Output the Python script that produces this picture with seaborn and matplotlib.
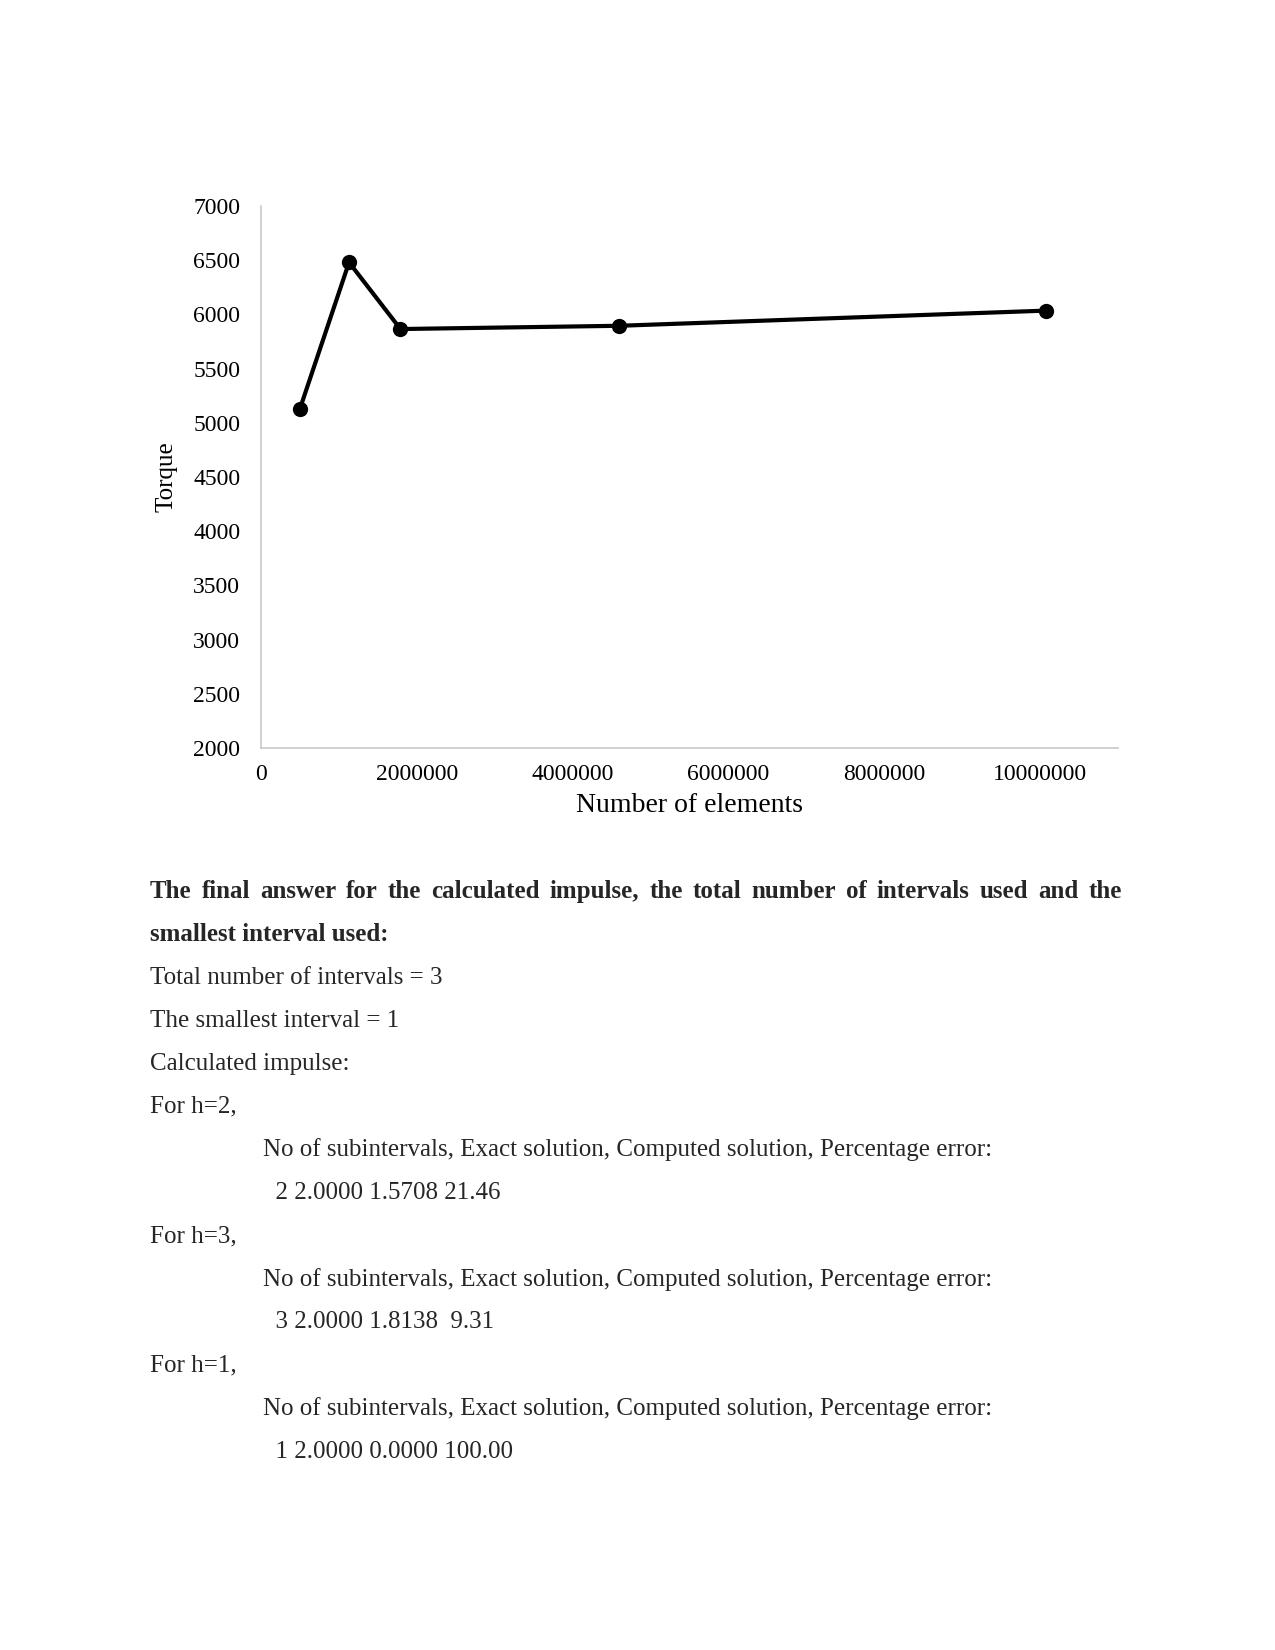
import matplotlib
matplotlib.use("Agg")
import matplotlib.pyplot as plt
import seaborn as sns
import pandas as pd

# ---- data ----
num_elements = [500000, 1130000, 1790000, 4600000, 10080000]
torque = [5130, 6480, 5865, 5895, 6035]
x_ticks = [0, 2000000, 4000000, 6000000, 8000000, 10000000]
y_ticks = [2000, 2500, 3000, 3500, 4000, 4500, 5000, 5500, 6000, 6500, 7000]

heading_words = "The final answer for the calculated impulse, the total number of intervals used and the".split()
heading_line2 = "smallest interval used:"
body_lines = [
    ("Total number of intervals = 3", 0),
    ("The smallest interval = 1", 0),
    ("Calculated impulse:", 0),
    ("For h=2,", 0),
    ("No of subintervals, Exact solution, Computed solution, Percentage error:", 1),
    ("  2 2.0000 1.5708 21.46", 1),
    ("For h=3,", 0),
    ("No of subintervals, Exact solution, Computed solution, Percentage error:", 1),
    ("  3 2.0000 1.8138  9.31", 1),
    ("For h=1,", 0),
    ("No of subintervals, Exact solution, Computed solution, Percentage error:", 1),
    ("  1 2.0000 0.0000 100.00", 1),
]

df = pd.DataFrame({"elements": num_elements, "torque": torque})

sns.set_style("white")
plt.rcParams["font.family"] = ["Liberation Serif", "DejaVu Serif"]

W, H = 1275, 1650
fig = plt.figure(figsize=(W / 100, H / 100), dpi=100)
ax = fig.add_axes([261 / W, 1 - 748 / H, (1118 - 261) / W, (748 - 206) / H])

sns.lineplot(data=df, x="elements", y="torque", ax=ax, color="black",
             linewidth=3, marker="o", markersize=11, markeredgewidth=0)

ax.set_xlim(0, 11000000)
ax.set_ylim(2000, 7000)
ax.set_xticks(x_ticks)
ax.set_xticklabels([str(v) for v in x_ticks])
ax.set_yticks(y_ticks)
ax.set_yticklabels([str(v) for v in y_ticks])
ax.tick_params(axis="both", length=0, labelsize=17, colors="#000000")
ax.tick_params(axis="y", pad=15)
ax.tick_params(axis="x", pad=11.5)
for s in ["top", "right"]:
    ax.spines[s].set_visible(False)
for s in ["left", "bottom"]:
    ax.spines[s].set_color("#c8c8c8")
    ax.spines[s].set_linewidth(1.2)
ax.grid(False)

ax.set_xlabel("Number of elements", fontsize=20, color="#000000")
ax.set_ylabel("Torque", fontsize=18, color="#000000")
ax.xaxis.set_label_coords(0.5, -(805 - 748) / (748 - 206))
ax.xaxis.label.set_va("center")
ax.yaxis.set_label_coords((167 - 261) / (1118 - 261), 0.5)
ax.yaxis.label.set_va("center")

# ---- text below the chart ----
left = 150 / W
right = 1122 / W
indent = 263 / W
fs = 18

def yfrac(py):
    return 1 - py / H

# justified bold heading line
fig.canvas.draw()
renderer = fig.canvas.get_renderer()
texts = []
widths = []
for w in heading_words:
    t = fig.text(0, yfrac(889), w, fontsize=fs, fontweight="bold",
                 va="center_baseline", ha="left")
    bb = t.get_window_extent(renderer=renderer)
    texts.append(t)
    widths.append(bb.width)
total_w = sum(widths)
avail = (right - left) * W
gap = (avail - total_w) / (len(heading_words) - 1)
xpos = left * W
for t, wd in zip(texts, widths):
    t.set_x(xpos / W)
    xpos += wd + gap

fig.text(left, yfrac(932), heading_line2, fontsize=fs, fontweight="bold",
         va="center_baseline", ha="left")

y0 = 975
step = 43.1
for i, (line, ind) in enumerate(body_lines):
    x = indent if ind else left
    fig.text(x, yfrac(y0 + i * step), line, fontsize=fs,
             va="center_baseline", ha="left")

fig.savefig("out.png", dpi=100)
